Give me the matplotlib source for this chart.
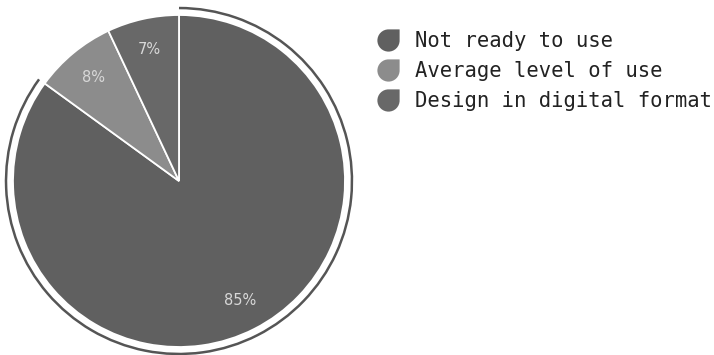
import numpy as np
import matplotlib.pyplot as plt
from matplotlib.patches import Arc
from matplotlib.path import Path
from matplotlib.lines import Line2D

# slice data
labels = ['Not ready to use', 'Average level of use', 'Design in digital format']
values = [85, 8, 7]
colors = ['#606060', '#8c8c8c', '#686868']

fig = plt.figure(figsize=(7.14, 3.55), dpi=100)

# pie centre at (179, 181) px from top-left, radius ~166 px
r_px = 166
lim = 1.08
w_px = 2 * lim * r_px
ax = fig.add_axes([(179 - w_px / 2) / 714, (174 - w_px / 2) / 355, w_px / 714, w_px / 355])

wedges, texts, autotexts = ax.pie(
    values, colors=colors, startangle=90, counterclock=False,
    autopct='%d%%', pctdistance=0.81,
    wedgeprops=dict(edgecolor='white', linewidth=1.3),
    textprops=dict(color='#d8d8d8', fontsize=10.5))

# outline arc around the biggest slice
start = 90 - 360 * values[0] / sum(values)
ax.add_patch(Arc((0, 0), 2 * 1.042, 2 * 1.042, theta1=start, theta2=90,
                 color='#555555', linewidth=1.8))

ax.set_xlim(-lim, lim)
ax.set_ylim(-lim, lim)
ax.set_aspect('equal')
ax.axis('off')

# leaf shaped legend marker
k = 0.5523
verts = [(1, 1), (0, 1),
         (-k, 1), (-1, k), (-1, 0),
         (-1, -k), (-k, -1), (0, -1),
         (k, -1), (1, -k), (1, 0),
         (1, 1)]
codes = [Path.MOVETO, Path.LINETO,
         Path.CURVE4, Path.CURVE4, Path.CURVE4,
         Path.CURVE4, Path.CURVE4, Path.CURVE4,
         Path.CURVE4, Path.CURVE4, Path.CURVE4,
         Path.CLOSEPOLY]
leaf = Path(verts, codes)

handles = [Line2D([], [], linestyle='none', marker=leaf, markersize=16,
                  markerfacecolor=c, markeredgecolor='none') for c in colors]
fig.legend(handles, labels, loc='upper left', bbox_to_anchor=(365 / 714, 1 - 21 / 355),
           frameon=False, prop=dict(family='DejaVu Sans Mono', size=14.8),
           labelcolor='#222222', handlelength=1.2, handletextpad=0.75,
           labelspacing=0.48, borderpad=0)

fig.savefig('out.png', dpi=100)
